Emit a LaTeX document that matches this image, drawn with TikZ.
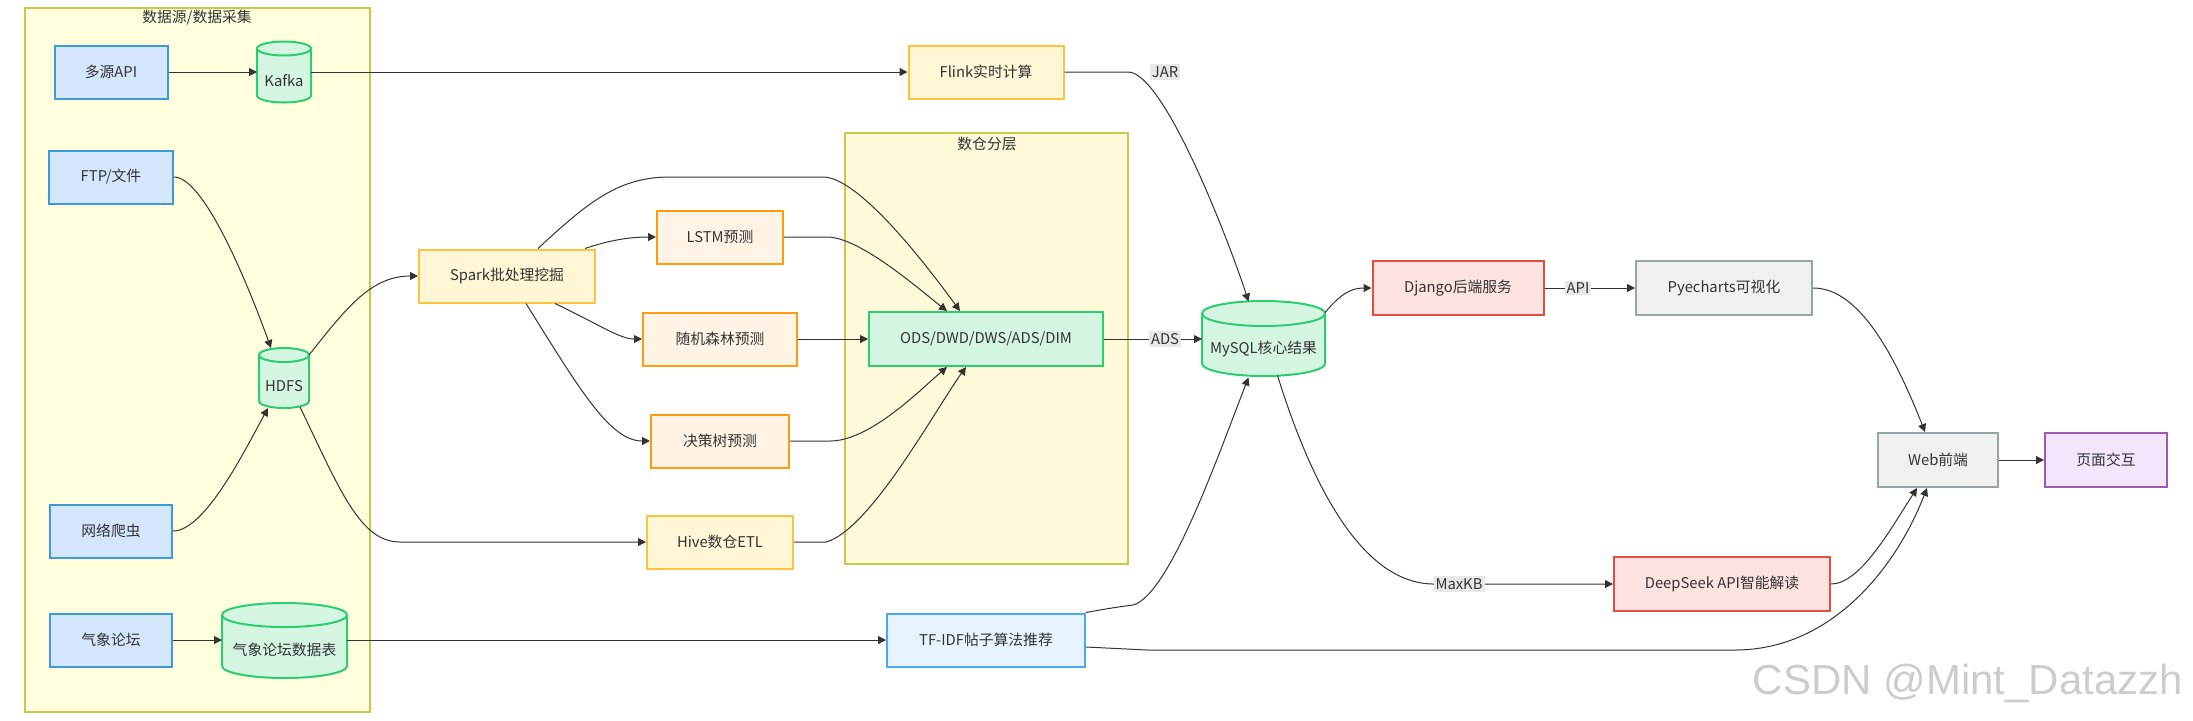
\documentclass[tikz,border=0pt]{standalone}
\usepackage{fontspec}
\setmainfont{Noto Sans CJK SC}
\newfontfamily\markfont{Liberation Sans}
\usepackage{xcolor}
\definecolor{paleblue}{HTML}{D4E6FC}
\definecolor{skyblue}{HTML}{3C9AD6}
\definecolor{iceblue}{HTML}{E6F3FD}
\definecolor{brightblue}{HTML}{4AA8F5}
\definecolor{mintgreen}{HTML}{D5F5E3}
\definecolor{leafgreen}{HTML}{2ECC71}
\definecolor{creamyellow}{HTML}{FEF6D4}
\definecolor{goldyellow}{HTML}{FCC43C}
\definecolor{peach}{HTML}{FFF3E5}
\definecolor{tangerine}{HTML}{FF9C0C}
\definecolor{rosepink}{HTML}{FDE2E2}
\definecolor{brickred}{HTML}{E74C3C}
\definecolor{ashgray}{HTML}{F0F0F0}
\definecolor{slategray}{HTML}{95A5A6}
\definecolor{lavender}{HTML}{F3E5FC}
\definecolor{orchid}{HTML}{9B59B6}
\definecolor{groupfill}{HTML}{FFFFDE}
\definecolor{layerfill}{HTML}{FEF9D9}
\definecolor{groupline}{HTML}{C8C84A}
\definecolor{labelgray}{HTML}{E8E8E8}
\definecolor{wire}{HTML}{333333}
\usepackage{tikz}
\usetikzlibrary{arrows.meta,positioning,calc}
\newcommand\nodefont{\fontsize{7.4pt}{9pt}\selectfont}
% drum outline: centre x, centre y, half width, half height, cap radius (all px)
\newcommand\drum[5]{%
  \filldraw[fill=mintgreen,draw=leafgreen,line width=1pt]
    (#1-#3,#2-#4+#5) -- (#1-#3,#2+#4-#5) arc[start angle=180,end angle=0,x radius=#3,y radius=#5]
    -- (#1+#3,#2-#4+#5) arc[start angle=0,end angle=-180,x radius=#3,y radius=#5] -- cycle;
  \draw[leafgreen,line width=1pt] (#1-#3,#2-#4+#5) arc[start angle=180,end angle=0,x radius=#3,y radius=#5];}
\tikzset{
  >={Triangle[length=4pt,width=4pt]},
  box/.style={rectangle,draw,line width=1pt,inner sep=0pt,minimum height=26.5pt,font=\nodefont,text=wire},
  source/.style={box,fill=paleblue,draw=skyblue},
  recommend/.style={box,fill=iceblue,draw=brightblue},
  batch/.style={box,fill=creamyellow,draw=goldyellow},
  model/.style={box,fill=peach,draw=tangerine},
  layer/.style={box,fill=mintgreen,draw=leafgreen,minimum height=27pt},
  service/.style={box,fill=rosepink,draw=brickred,minimum height=27pt},
  front/.style={box,fill=ashgray,draw=slategray,minimum height=27pt},
  interact/.style={box,fill=lavender,draw=orchid,minimum height=27pt},
  store/.style={rectangle,inner sep=0pt,outer sep=0pt},
  storetext/.style={font=\nodefont,text=wire,inner sep=0pt},
  group/.style={rectangle,draw=groupline,line width=1pt,inner sep=0pt},
  grouptitle/.style={font=\nodefont,text=wire},
  edge/.style={->,draw=wire,line width=0.5pt},
  lbl/.style={fill=labelgray,inner sep=1pt,font=\nodefont,text=wire}
}

\begin{document}
\begin{tikzpicture}[x=0.5pt,y=-0.5pt]
  \useasboundingbox (0,0) rectangle (2193,720);

  % Groups
  \node[group,fill=groupfill,minimum width=172.5pt,minimum height=352pt] (srcgrp) at (197.5,360) {};
  \node[grouptitle] (srctitle) at (197,18) {数据源/数据采集};
  \node[group,fill=layerfill,minimum width=141.5pt,minimum height=215.5pt] (dwgrp) at (986.5,348.5) {};
  \node[grouptitle] (dwtitle) at (987,144) {数仓分层};

  % Sources
  \node[source,minimum width=56.5pt] (api) at (111,72) {多源API};
  \drum{284}{72}{27}{30.5}{7}
  \node[store,minimum width=27pt,minimum height=30.5pt] (kafka) at (284,72) {};
  \node[storetext] (kafkatext) at (284,81) {Kafka};
  \node[source,minimum width=62pt] (ftp) at (111,177) {FTP/文件};
  \drum{284}{378}{25}{30}{7}
  \node[store,minimum width=25pt,minimum height=30pt] (hdfs) at (284,378) {};
  \node[storetext] (hdfstext) at (284,386) {HDFS};
  \node[source,minimum width=61pt] (crawler) at (111,531) {网络爬虫};
  \node[source,minimum width=61pt] (forum) at (111,640) {气象论坛};
  \drum{284.5}{640.5}{62.5}{37.5}{12}
  \node[store,minimum width=62.5pt,minimum height=37.5pt] (forumdb) at (284.5,640) {};
  \node[storetext] (forumdbtext) at (284.5,650) {气象论坛数据表};

  % Processing
  \node[batch,minimum width=88pt] (spark) at (507,276) {Spark批处理挖掘};
  \node[model,minimum width=63pt] (lstm) at (720,237) {LSTM预测};
  \node[model,minimum width=77pt] (forest) at (720,339) {随机森林预测};
  \node[model,minimum width=69pt] (tree) at (720,441) {决策树预测};
  \node[batch,minimum width=73pt] (hive) at (720,542) {Hive数仓ETL};
  \node[layer,minimum width=117pt] (ods) at (986,339) {ODS/DWD/DWS/ADS/DIM};
  \node[batch,minimum width=77.5pt] (flink) at (986,72) {Flink实时计算};
  \node[recommend,minimum width=99pt] (tfidf) at (986,640) {TF-IDF帖子算法推荐};

  % Results and front end
  \drum{1263.5}{338.5}{61.5}{37.5}{12.5}
  \node[store,minimum width=61.5pt,minimum height=37.5pt] (mysql) at (1263.5,339) {};
  \node[storetext] (mysqltext) at (1263.5,349) {MySQL核心结果};
  \node[service,minimum width=85.5pt] (django) at (1458,288) {Django后端服务};
  \node[front,minimum width=88pt] (pyecharts) at (1724,288) {Pyecharts可视化};
  \node[service,minimum width=108pt] (deepseek) at (1722,584) {DeepSeek API智能解读};
  \node[front,minimum width=60pt] (web) at (1938,460) {Web前端};
  \node[interact,minimum width=61pt] (page) at (2106,460) {页面交互};

  % Connectors
  \draw[edge] (api) -- (kafka);
  \draw[edge] (kafka) -- (flink);
  \draw[edge] (ftp.east) .. controls (205,177) and (250,290) .. ($(hdfs.north)+(-13,0)$);
  \draw[edge] (crawler.east) .. controls (205,531) and (245,450) .. ($(hdfs.south)+(-16,0)$);
  \draw[edge] ($(hdfs.north east)+(0,7)$) .. controls (345,310) and (370,276) .. (spark.west);
  \draw[edge] ($(hdfs.south)+(16,-1)$) .. controls (340,490) and (360,542) .. (400,542) -- (hive.west);
  \draw[edge] ($(spark.north)+(78,0)$) .. controls (610,240) and (630,237) .. (lstm.west);
  \draw[edge] ($(spark.south)+(48,0)$) .. controls (600,325) and (620,339) .. (forest.west);
  \draw[edge] ($(spark.south)+(19,0)$) .. controls (580,390) and (610,441) .. (tree.west);
  \draw[edge] ($(spark.north)+(31,0)$) .. controls (590,200) and (620,177) .. (670,177) -- (823,177) .. controls (860,177) and (930,270) .. ($(ods.north)+(-26,0)$);
  \draw[edge] (lstm.east) -- (827,237) .. controls (860,237) and (920,290) .. ($(ods.north)+(-39,0)$);
  \draw[edge] (forest) -- (ods);
  \draw[edge] (tree.east) -- (830,441) .. controls (870,441) and (920,390) .. ($(ods.south)+(-39,0)$);
  \draw[edge] (hive.east) -- (826,542) .. controls (870,530) and (935,410) .. ($(ods.south)+(-20,0)$);
  \draw[edge] (ods) -- (mysql);
  \draw[edge] (flink.east) -- (1128,72) .. controls (1165,72) and (1232,250) .. ($(mysql.north)+(-15,0)$);
  \draw[edge] ($(mysql.north east)+(0,11)$) .. controls (1340,295) and (1350,288) .. (django.west);
  \draw[edge] (django) -- (pyecharts);
  \draw[edge] (pyecharts.east) .. controls (1850,288) and (1885,330) .. ($(web.north)+(-13,0)$);
  \draw[edge] ($(mysql.south)+(14,-1)$) .. controls (1310,480) and (1360,583) .. (1433,584) -- (deepseek.west);
  \draw[edge] (deepseek.east) .. controls (1860,584) and (1890,530) .. ($(web.south)+(-21,0)$);
  \draw[edge] (web) -- (page);
  \draw[edge] (forum) -- (forumdb);
  \draw[edge] (forumdb) -- (tfidf);
  \draw[edge] (tfidf.north east) .. controls (1110,608) and (1125,606) .. (1133,605) .. controls (1170,595) and (1220,450) .. ($(mysql.south)+(-15,1)$);
  \draw[edge] ($(tfidf.east)+(0,7)$) -- (1147,650) -- (1735,650) .. controls (1830,650) and (1895,570) .. ($(web.south)+(-11,0)$);

  % Edge labels
  \node[lbl] (jar) at (1165,72) {JAR};
  \node[lbl] (ads) at (1165,339) {ADS};
  \node[lbl] (apilbl) at (1578,288) {API};
  \node[lbl] (maxkb) at (1459,584) {MaxKB};

  % Watermark
  \node[text=black!20,font=\markfont\fontsize{21pt}{24pt}\selectfont] (mark) at (1968,683) {CSDN @Mint\_Datazzh};
\end{tikzpicture}
\end{document}
